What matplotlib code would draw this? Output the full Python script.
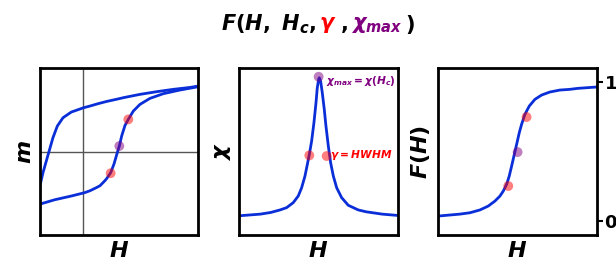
import numpy as np
import matplotlib
matplotlib.use('Agg')
import matplotlib.pyplot as plt

plt.rcParams['mathtext.fontset'] = 'custom'
plt.rcParams['mathtext.it'] = 'DejaVu Sans:italic:bold'
plt.rcParams['mathtext.rm'] = 'DejaVu Sans:bold'
plt.rcParams['mathtext.bf'] = 'DejaVu Sans:bold'

# painel 1: ciclo de histerese
ramo_sobe_x = [-1.0, -0.656, -0.266, 0.046, 0.171, 0.319, 0.405, 0.514, 0.561, 0.655,
               0.733, 0.795, 0.858, 0.913, 0.991, 1.068, 1.186, 1.342, 1.576, 1.888, 2.279, 2.7]
ramo_sobe_y = [-0.63, -0.578, -0.533, -0.493, -0.47, -0.433, -0.41, -0.353, -0.325, -0.254,
               -0.15, -0.04, 0.066, 0.186, 0.313, 0.385, 0.485, 0.565, 0.637, 0.693, 0.737, 0.776]
ramo_desce_x = [2.7, 2.513, 2.122, 1.732, 1.342, 0.951, 0.827, 0.561, 0.358, 0.171,
                0.023, -0.266, -0.461, -0.594, -0.696, -0.774, -0.852, -0.930, -0.984, -1.0]
ramo_desce_y = [0.784, 0.768, 0.745, 0.717, 0.685, 0.645, 0.630, 0.600, 0.573, 0.545,
                0.525, 0.473, 0.405, 0.305, 0.166, 0.026, -0.114, -0.254, -0.373, -0.40]
pontos1_x = [0.655, 0.858, 1.068]
pontos1_y = [-0.26, 0.066, 0.385]

# painel 2: susceptibilidade
chi_x = [-1.0, -0.731, -0.6, -0.484, -0.400, -0.317, -0.254, -0.212, -0.170, -0.140,
         -0.115, -0.086, -0.057, -0.031, -0.015, 0.002, 0.010, 0.027, 0.048, 0.073,
         0.094, 0.124, 0.153, 0.187, 0.229, 0.291, 0.375, 0.501, 0.6, 0.801, 1.0]
chi_y = [0.115, 0.125, 0.135, 0.150, 0.164, 0.194, 0.234, 0.283, 0.353, 0.423,
         0.483, 0.563, 0.673, 0.793, 0.882, 0.932, 0.942, 0.922, 0.852, 0.753,
         0.653, 0.533, 0.433, 0.353, 0.283, 0.224, 0.178, 0.150, 0.139, 0.125, 0.117]
pontos2_x = [-0.115, 0.002, 0.103]
pontos2_y = [0.477, 0.948, 0.473]

# painel 3: F(H)
f_x = [-1.0, -0.725, -0.597, -0.472, -0.367, -0.283, -0.220, -0.178, -0.136, -0.103,
       -0.073, -0.044, -0.010, 0.023, 0.052, 0.094, 0.149, 0.220, 0.304, 0.409,
       0.535, 0.660, 0.758, 1.0]
f_y = [0.036, 0.050, 0.060, 0.080, 0.108, 0.144, 0.180, 0.216, 0.264, 0.324,
       0.396, 0.468, 0.552, 0.635, 0.695, 0.767, 0.827, 0.875, 0.906, 0.928,
       0.942, 0.947, 0.954, 0.964]
pontos3_x = [-0.115, 0.002, 0.115]
pontos3_y = [0.252, 0.496, 0.748]

azul = '#0a2ed8'
cor_pontos = ['red', '#800080', 'red']

fig = plt.figure(figsize=(6.16, 2.6), dpi=100)
ax1 = fig.add_axes([0.0649, 0.0962, 0.2565, 0.642])
ax2 = fig.add_axes([0.388, 0.0962, 0.258, 0.642])
ax3 = fig.add_axes([0.711, 0.0962, 0.258, 0.642])

rotulo = dict(fontsize=16, fontweight='bold', fontstyle='italic')

# painel 1
ax1.axhline(0, color='#555555', lw=1)
ax1.axvline(0, color='#555555', lw=1)
ax1.plot(ramo_sobe_x, ramo_sobe_y, color=azul, lw=2, solid_joinstyle='round')
ax1.plot(ramo_desce_x, ramo_desce_y, color=azul, lw=2, solid_joinstyle='round')
ax1.scatter(pontos1_x, pontos1_y, c=cor_pontos, s=50, alpha=0.5, zorder=3, lw=0)
ax1.set_xlim(-1, 2.7)
ax1.set_ylim(-1, 1)
ax1.set_ylabel('m', labelpad=4, **rotulo)

# painel 2
ax2.plot(chi_x, chi_y, color=azul, lw=2, solid_joinstyle='round')
ax2.scatter(pontos2_x, pontos2_y, c=cor_pontos, s=50, alpha=0.5, zorder=3, lw=0)
ax2.set_xlim(-1, 1)
ax2.set_ylim(0, 1)
ax2.set_ylabel('$\\chi$', labelpad=4, **rotulo)
ax2.text(0.10, 0.925, '$\\chi_{max}=\\chi(H_c)$', color='#800080', fontsize=7.7,
         va='center', ha='left')
ax2.text(0.15, 0.477, '$\\gamma=HWHM$', color='red', fontsize=7.7,
         va='center', ha='left')

# painel 3
ax3.plot(f_x, f_y, color=azul, lw=2, solid_joinstyle='round')
ax3.scatter(pontos3_x, pontos3_y, c=cor_pontos, s=50, alpha=0.5, zorder=3, lw=0)
ax3.set_xlim(-1, 1)
ax3.set_ylim(-0.1, 1.1)
ax3.set_ylabel('$F(H)$', labelpad=4, **rotulo)
ax3.yaxis.tick_right()
ax3.yaxis.set_label_position('left')
ax3.set_yticks([0, 1])
ax3.set_yticklabels(['0', '1'], fontsize=13, fontweight='bold')
ax3.tick_params(axis='y', length=4, width=1.5, pad=1.5)

for ax in [ax1, ax2, ax3]:
    ax.set_xticks([])
    if ax is not ax3:
        ax.set_yticks([])
    ax.set_xlabel('$H$', labelpad=4, **rotulo)
    for s in ax.spines.values():
        s.set_linewidth(2)

# titulo com cores diferentes
partes = [('$F(H,\\ H_c,$', 'black'), ('$\\gamma$', 'red'), ('$,$', 'black'),
          ('$\\chi_{max}$', '#800080'), ('$)$', 'black')]
fig.canvas.draw()
r = fig.canvas.get_renderer()
textos = []
larg = 0
gap = 3
for s, c in partes:
    t = fig.text(0, 0.905, s, color=c, fontsize=15, va='center', ha='left')
    w = t.get_window_extent(r).width
    textos.append((t, w))
    larg += w + gap
larg -= gap
x = 318 - larg / 2
for t, w in textos:
    t.set_x(x / fig.bbox.width)
    x += w + gap

plt.savefig('out.png', dpi=100)
